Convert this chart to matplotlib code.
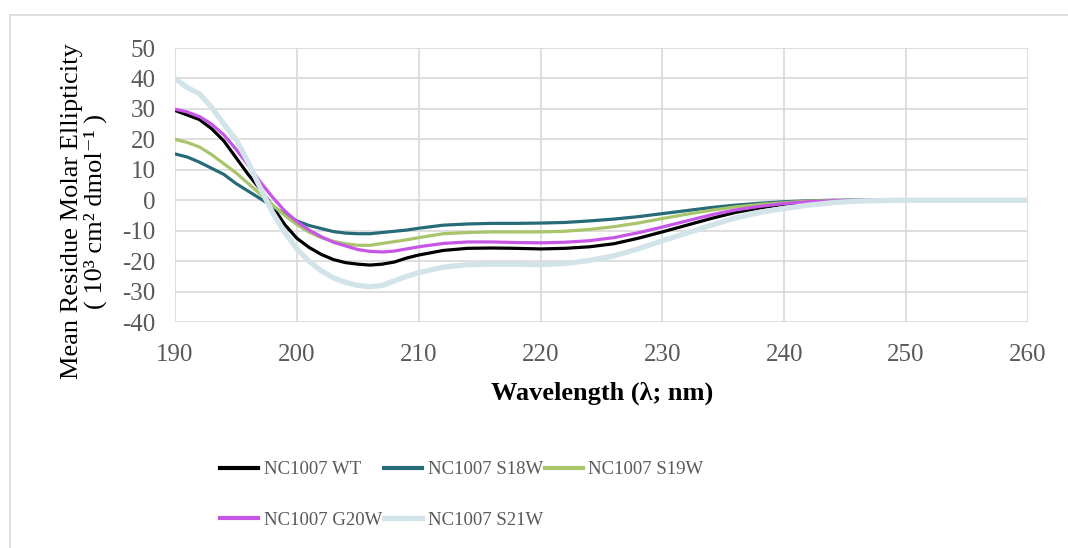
import matplotlib
matplotlib.use("Agg")
import matplotlib.pyplot as plt
from matplotlib.lines import Line2D

# wavelength grid (nm)
wavelength = [190, 191, 192, 193, 194, 195, 196, 197, 198, 199, 200,
              201, 202, 203, 204, 205, 206, 207, 208, 209, 210,
              212, 214, 216, 218, 220, 222, 224, 226, 228, 230,
              232, 234, 236, 238, 240, 242, 244, 246, 248, 250, 255, 260]

# mean residue molar ellipticity (10^3 cm^2 dmol^-1)
wt = [29.5, 28, 26.5, 23.5, 19.5, 14, 8.5, 3.5, -2, -8, -12.5,
      -15.5, -17.8, -19.5, -20.5, -21, -21.3, -21, -20.3, -19, -18,
      -16.5, -15.8, -15.7, -15.8, -16, -15.8, -15.3, -14.3, -12.5, -10.4,
      -8.2, -6, -4, -2.5, -1.3, -0.6, -0.2, 0, 0, 0, 0, 0]
s18w = [15.2, 14.2, 12.5, 10.5, 8.5, 5.5, 3, 0.5, -2, -4.5, -6.8,
        -8.3, -9.3, -10.3, -10.8, -11, -11, -10.6, -10.2, -9.8, -9.2,
        -8.2, -7.8, -7.6, -7.6, -7.5, -7.3, -6.8, -6.2, -5.4, -4.4,
        -3.4, -2.4, -1.6, -1, -0.5, -0.2, 0, 0, 0, 0, 0, 0]
s19w = [20, 19, 17.5, 15, 12, 9, 5.5, 2, -1.5, -5, -8,
        -10.5, -12.3, -13.5, -14.3, -14.8, -14.8, -14.2, -13.6, -13, -12.3,
        -11, -10.6, -10.4, -10.4, -10.4, -10.2, -9.6, -8.7, -7.5, -6,
        -4.6, -3.3, -2.2, -1.4, -0.8, -0.3, -0.1, 0, 0, 0, 0, 0]
g20w = [29.9, 29, 27.5, 25, 21.5, 16.8, 11.5, 6, 1, -3.5, -7,
        -9.8, -12, -13.8, -15, -16.2, -16.8, -17, -16.7, -16, -15.3,
        -14.2, -13.7, -13.7, -13.9, -14, -13.8, -13.3, -12.3, -10.7, -8.8,
        -6.8, -4.8, -3.2, -2, -1.1, -0.5, -0.2, 0, 0, 0, 0, 0]
s21w = [40, 37, 35, 30.5, 25, 20, 12.5, 4, -4, -10.5, -16,
        -20, -23.2, -25.5, -27, -28, -28.4, -28, -26.5, -25, -23.8,
        -22, -21.2, -21, -21, -21.2, -20.8, -19.8, -18.3, -16, -13.3,
        -10.8, -8.2, -5.8, -4, -2.7, -1.6, -0.8, -0.3, -0.1, 0, 0, 0]

labels = ["NC1007 WT", "NC1007 S18W", "NC1007 S19W", "NC1007 G20W", "NC1007 S21W"]
series = [wt, s18w, s19w, g20w, s21w]
colors = ["#000000", "#266B77", "#A8C56B", "#C756E6", "#D2E3E9"]
widths = [2.3, 2.3, 2.3, 2.3, 3.8]

plt.rcParams['font.family'] = ['Liberation Serif', 'DejaVu Serif']
plt.rcParams['axes.unicode_minus'] = False

fig = plt.figure(figsize=(10.68, 5.48), dpi=100)
ax = fig.add_axes([0.1639, 0.4124, 0.7986, 0.5])

# S21W goes under the others like in the original
order = [4, 0, 1, 2, 3]
for i in order:
    ax.plot(wavelength, series[i], color=colors[i], lw=widths[i],
            solid_capstyle='round', solid_joinstyle='round', zorder=3 + i)

ax.set_xlim(190, 260)
ax.set_ylim(-40, 50)
ax.set_xticks(range(190, 261, 10))
ax.set_yticks(range(-40, 51, 10))
ax.grid(True, color="#D9D9D9", lw=1.2)
ax.set_axisbelow(True)
for s in ax.spines.values():
    s.set_visible(False)
ax.tick_params(length=0, labelsize=18, labelcolor="#595959")
ax.tick_params(axis='x', pad=16)
ax.tick_params(axis='y', pad=14)

ax.set_xlabel("Wavelength (λ; nm)", fontsize=19, fontweight='bold')
ax.xaxis.label.set_va('center')
ax.xaxis.set_label_coords(0.5006, -0.259)
ax.set_ylabel("Mean Residue Molar Ellipticity\n( 10³ cm² dmol⁻¹ )",
              fontsize=19, linespacing=1.05)
ax.yaxis.label.set_va('center')
ax.yaxis.set_label_coords(-0.1067, 0.405)

# matplotlib fills legend columns first, so reorder to get row-wise layout
leg_order = [0, 3, 1, 4, 2]
handles = [Line2D([0], [0], color=colors[i], lw=widths[i] if i == 4 else 3) for i in leg_order]
fig.legend(handles, [labels[i] for i in leg_order], loc='upper left',
           bbox_to_anchor=(220 / 1068, 1 - 461 / 548), borderaxespad=0, borderpad=0,
           ncol=3, frameon=False, fontsize=13.5, handlelength=2.03, handletextpad=0.3,
           columnspacing=0.1, labelspacing=1.8, labelcolor="#595959")

# outer chart frame (top and left edges visible in the crop)
fig.add_artist(Line2D([10 / 1068, 1.0], [1 - 15 / 548, 1 - 15 / 548],
                      transform=fig.transFigure, color="#D9D9D9", lw=1.2))
fig.add_artist(Line2D([10 / 1068, 10 / 1068], [0, 1 - 15 / 548],
                      transform=fig.transFigure, color="#D9D9D9", lw=1.2))

fig.savefig("out.png", dpi=100)
